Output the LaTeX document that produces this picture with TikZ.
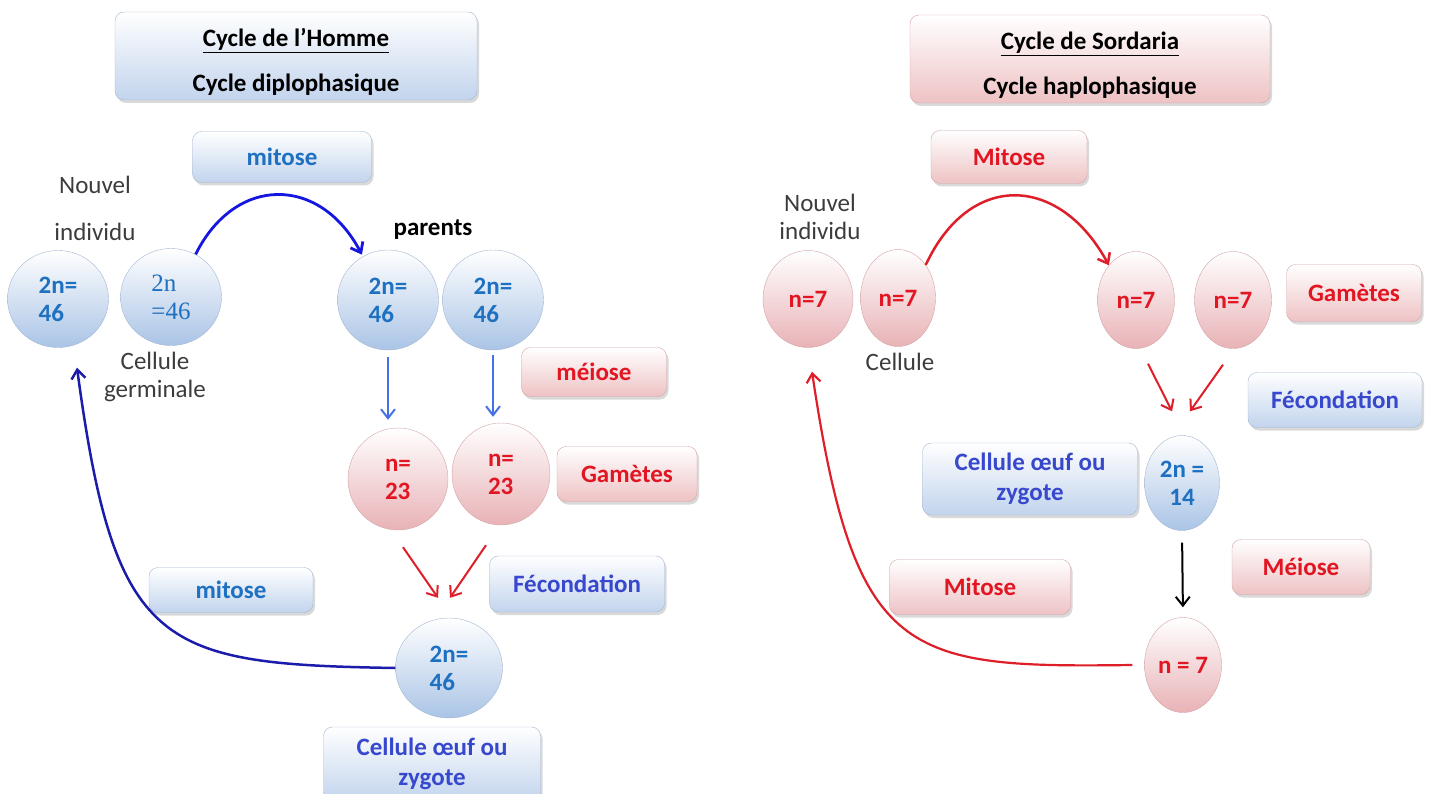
\documentclass[tikz,border=0pt]{standalone}
\usepackage{fontspec}
\setmainfont{Carlito}
\newfontfamily\cellserif{Liberation Serif}
\usetikzlibrary{shapes.geometric, shadows, arrows.meta}

\definecolor{boxblue}{RGB}{194,212,237}
\definecolor{boxred}{RGB}{238,194,196}
\definecolor{edgeblue}{RGB}{165,182,210}
\definecolor{edgered}{RGB}{210,165,168}
\definecolor{cellblue}{RGB}{170,196,230}
\definecolor{cellred}{RGB}{232,178,182}
\definecolor{txtblue}{RGB}{30,112,192}
\definecolor{txtindigo}{RGB}{55,72,205}
\definecolor{txtred}{RGB}{225,22,34}
\definecolor{txtgray}{RGB}{60,60,60}
\definecolor{arcblue}{RGB}{22,22,225}
\definecolor{loopblue}{RGB}{28,28,170}
\definecolor{meiblue}{RGB}{70,112,230}
\definecolor{arcred}{RGB}{222,30,40}

\tikzset{
  bluebox/.style={rectangle, rounded corners=9pt, draw=edgeblue, top color=white, bottom color=boxblue,
    drop shadow={shadow xshift=2pt, shadow yshift=-3pt, opacity=0.3}, font=\fontsize{25}{28}\selectfont\bfseries, align=center},
  redbox/.style={rectangle, rounded corners=9pt, draw=edgered, top color=white, bottom color=boxred,
    drop shadow={shadow xshift=2pt, shadow yshift=-3pt, opacity=0.3}, font=\fontsize{25}{28}\selectfont\bfseries, align=center, text=txtred},
  bluecell/.style={ellipse, draw=edgeblue, top color=white, bottom color=cellblue, inner sep=0pt,
    font=\fontsize{25}{28}\selectfont\bfseries, align=left, text=txtblue},
  redcell/.style={ellipse, draw=edgered, top color=white, bottom color=cellred, inner sep=0pt,
    font=\fontsize{25}{28}\selectfont\bfseries, align=left, text=txtred},
  lbl/.style={text=txtgray, align=center},
  barb/.style={-{Straight Barb[length=9pt,width=14pt]}},
}

\begin{document}
\begin{tikzpicture}[x=1pt, y=-1pt, font=\fontsize{25}{28}\selectfont]
\useasboundingbox (0,0) rectangle (1432,794);

% --- cycle de l'Homme
\node[bluebox, text=black, minimum width=362pt, minimum height=88pt] (titre1) at (296,56)
  {\rule{0pt}{30pt}\underline{Cycle de l’Homme}\\[17pt]Cycle diplophasique};
\node[bluebox, text=txtblue, minimum width=179pt, minimum height=51pt] (mit1) at (282,157) {mitose};
\node[lbl] (nouv1) at (95,208) {Nouvel\\[19pt]individu};
\node[font=\fontsize{25}{28}\selectfont\bfseries] (par) at (433,230) {parents};

\node[bluecell, minimum width=101pt, minimum height=97pt] (ind1) at (58,299) {2n=\\46};
\node[bluecell, minimum width=101pt, minimum height=97pt, font=\fontsize{25}{28}\cellserif] (germ1) at (171,297) {2n\\=46};
\node[lbl] (cel1) at (155,377) {Cellule\\germinale};

\node[bluecell, minimum width=101pt, minimum height=100pt] (par1) at (388,300) {2n=\\46};
\node[bluecell, minimum width=101pt, minimum height=100pt] (par2) at (493,300) {2n=\\46};
\node[redbox, minimum width=145pt, minimum height=49pt] (mei1) at (594,372) {méiose};

\node[redcell, minimum width=100pt, minimum height=102pt] (gam1) at (398,479) {n=\\23};
\node[redcell, minimum width=98pt, minimum height=102pt] (gam2) at (501,474) {n=\\23};
\node[redbox, minimum width=140pt, minimum height=55pt] (gamt1) at (627,474) {Gamètes};

\node[bluebox, text=txtindigo, minimum width=175pt, minimum height=56pt] (fec1) at (577,584) {Fécondation};
\node[bluebox, text=txtblue, minimum width=164pt, minimum height=45pt] (mit2) at (231,590) {mitose};
\node[bluecell, minimum width=107pt, minimum height=100pt] (zyg1) at (449,668) {2n=\\46};
\node[bluebox, text=txtindigo, minimum width=217pt, minimum height=74pt] (oeuf1) at (432,764)
  {Cellule œuf ou\\[2pt]zygote};

\draw[barb, arcblue, line width=2.8pt, shorten >=2pt] (germ1.60) .. controls (235,175) and (320,175) .. (par1.120);
\draw[barb, meiblue, line width=2pt, shorten <=7pt, shorten >=8pt] (par1.south) -- (par1.south |- gam1.north);
\draw[barb, meiblue, line width=2pt, shorten <=5pt, shorten >=6pt] (par2.south) -- (par2.south |- gam2.north);
\draw[barb, arcred, line width=2pt] ([shift={(5,17)}]gam1.south) -- ([shift={(-11,-20)}]zyg1.north);
\draw[barb, arcred, line width=2pt] ([shift={(-15,20)}]gam2.south) -- ([shift={(1,-20)}]zyg1.north);
\draw[barb, loopblue, line width=2.5pt] (zyg1.west) .. controls (160,664) and (115,650) .. ([shift={(19,20)}]ind1.south);

% --- cycle de Sordaria
\node[redbox, text=black, minimum width=360pt, minimum height=88pt] (titre2) at (1090,59)
  {\rule{0pt}{30pt}\underline{Cycle de Sordaria}\\[17pt]Cycle haplophasique};
\node[redbox, minimum width=156pt, minimum height=53pt] (mit3) at (1009,157) {Mitose};
\node[lbl] (nouv2) at (820,217) {Nouvel\\individu};

\node[redcell, minimum width=90pt, minimum height=97pt] (ind2) at (808,299) {n=7};
\node[redcell, minimum width=75pt, minimum height=97pt] (cel2) at (898,298) {n=7};
\node[lbl] (cel3) at (900,362) {Cellule};
\node[redcell, minimum width=77pt, minimum height=97pt] (gam3) at (1136,300) {n=7};
\node[redcell, minimum width=77pt, minimum height=97pt] (gam4) at (1233,300) {n=7};
\node[redbox, minimum width=135pt, minimum height=57pt] (gamt2) at (1354,293) {Gamètes};

\node[bluebox, text=txtindigo, minimum width=174pt, minimum height=55pt] (fec2) at (1335,400) {Fécondation};
\node[bluebox, text=txtindigo, minimum width=215pt, minimum height=72pt] (oeuf2) at (1030,479)
  {Cellule œuf ou\\[2pt]zygote};
\node[bluecell, align=center, minimum width=75pt, minimum height=95pt] (zyg2) at (1182,483) {2n =\\14};
\node[redbox, minimum width=138pt, minimum height=55pt] (mei2) at (1301,567) {Méiose};
\node[redbox, minimum width=181pt, minimum height=55pt] (mit4) at (980,587) {Mitose};
\node[redcell, minimum width=77pt, minimum height=95pt] (spo2) at (1183,665) {n = 7};

\draw[barb, arcred, line width=2.5pt] (cel2.50) .. controls (970,170) and (1060,175) .. (gam3.128);
\draw[barb, arcred, line width=2pt] ([shift={(12,15)}]gam3.south) -- ([shift={(-10,-24)}]zyg2.north);
\draw[barb, arcred, line width=2pt] ([shift={(-10,16)}]gam4.south) -- ([shift={(8,-24)}]zyg2.north);
\draw[barb, black, line width=2pt, shorten <=12pt, shorten >=10pt] (zyg2.south) -- (spo2.north);
\draw[barb, arcred, line width=2.2pt] ([xshift=-12pt]spo2.west) .. controls (905,668) and (855,660) .. ([shift={(4,24)}]ind2.south);
\end{tikzpicture}
\end{document}
